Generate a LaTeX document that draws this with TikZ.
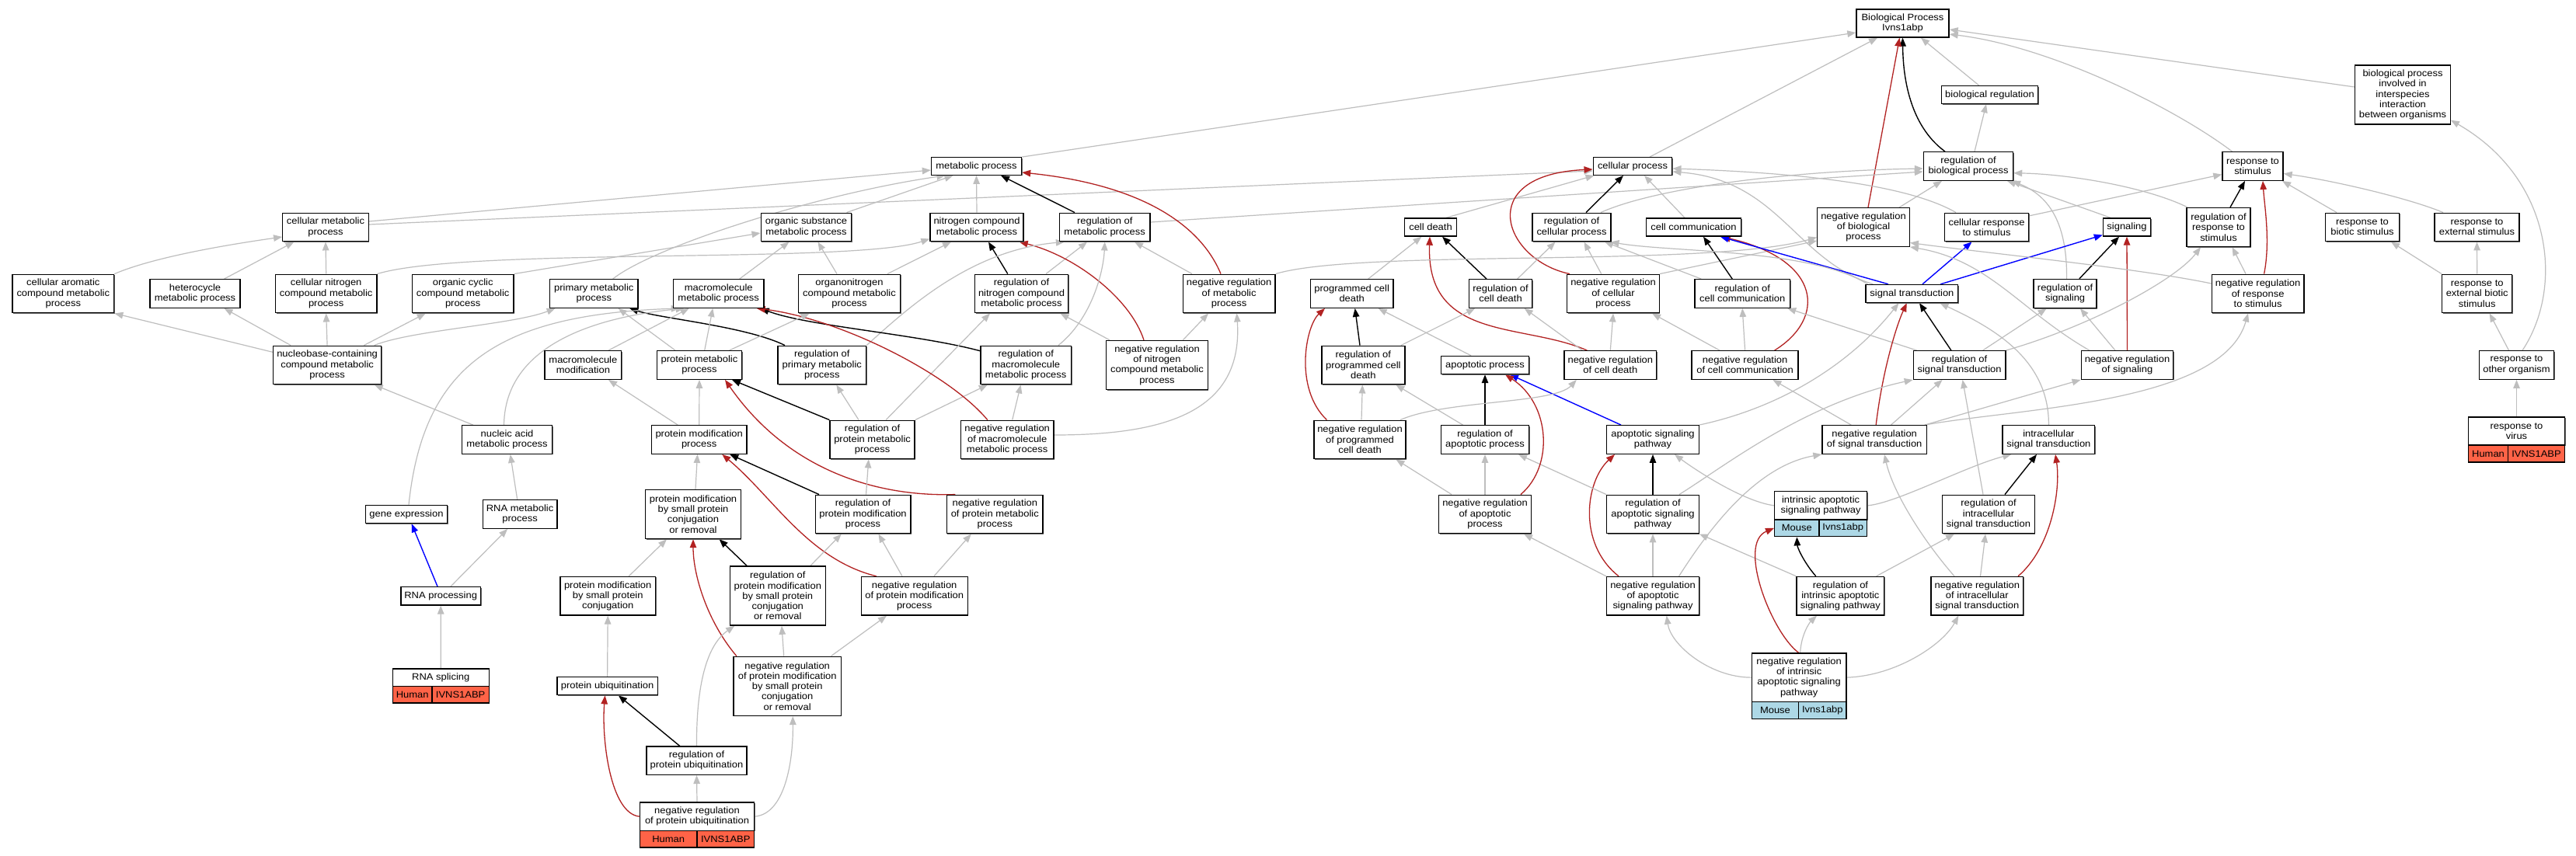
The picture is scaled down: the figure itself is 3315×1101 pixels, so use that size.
\documentclass[tikz,border=0pt]{standalone}
\usepackage{fontspec}
\setmainfont{Liberation Sans}[FakeStretch=1.08]
\usetikzlibrary{arrows.meta,calc,shadows}
\pgfdeclarelayer{edges}
\pgfsetlayers{edges,main}
\definecolor{edgegray}{HTML}{BEBEBE}
\definecolor{edgered}{HTML}{B22222}
\definecolor{edgeblue}{HTML}{0000FF}
\definecolor{hum}{HTML}{FF6347}
\definecolor{mou}{HTML}{ADD8E6}
\tikzset{
  gbox/.style={draw=black, line width=1.4pt, fill=white, inner sep=0pt, align=center,
    font=\fontsize{12}{13.3}\selectfont,
    general shadow={fill=black!60, shadow xshift=1pt, shadow yshift=-1pt}},
  cellbox/.style={draw=black, line width=1.4pt, inner sep=0pt, align=center,
    font=\fontsize{12}{13.3}\selectfont},
  tipk/.style={-{Triangle[length=11pt,width=8.5pt]}},
  gline/.style={draw=edgegray, line width=1.2pt, tipk},
  kline/.style={draw=black, line width=1.4pt, tipk},
  rline/.style={draw=edgered, line width=1.3pt, tipk},
  bline/.style={draw=edgeblue, line width=1.4pt, tipk}
}
\newcommand{\gnode}[6]{\node[gbox,minimum width=#4pt,minimum height=#5pt] (#1) at (#2,#3) {#6};}
\newcommand{\cellnode}[7]{\node[cellbox,fill=#6,minimum width=#4pt,minimum height=#5pt] (#1) at (#2,#3) {#7};}
\begin{document}
\begin{tikzpicture}[x=1pt,y=-1pt]
\useasboundingbox (0,0) rectangle (3315,1101);
\begin{pgfonlayer}{edges}
\fill[white] (0,0) rectangle (3315,1101);
\end{pgfonlayer}
% ---------------- nodes
\gnode{BP}{2448.5}{30}{119}{36}{Biological Process\\Ivns1abp}
\gnode{BR}{2560.5}{122}{124}{23}{biological regulation}
\gnode{BPI}{3092}{122}{122.5}{76}{biological process\\involved in\\interspecies\\interaction\\between organisms}
\gnode{MP}{1256.5}{214}{116}{22.5}{metabolic process}
\gnode{CP}{2101}{214}{101.5}{22.5}{cellular process}
\gnode{RBP}{2533}{214}{115}{36.5}{regulation of\\biological process}
\gnode{RS}{2899}{214}{78}{36.5}{response to\\stimulus}
\gnode{CMP}{419}{292.5}{110.5}{36.5}{cellular metabolic\\process}
\gnode{OSMP}{1037.5}{292.5}{116.5}{36.5}{organic substance\\metabolic process}
\gnode{NCMP}{1257}{292.5}{120}{36.5}{nitrogen compound\\metabolic process}
\gnode{RMP}{1421.7}{292.5}{116.5}{36.5}{regulation of\\metabolic process}
\gnode{CD}{1841}{292.5}{66.5}{23}{cell death}
\gnode{RCP}{2022.5}{292.5}{101}{36.5}{regulation of\\cellular process}
\gnode{CC}{2179.5}{292.5}{122}{23}{cell communication}
\gnode{NRBP}{2398}{292.5}{118.5}{49.5}{negative regulation\\of biological\\process}
\gnode{CRS}{2556.5}{292.5}{108}{36.5}{cellular response\\to stimulus}
\gnode{SIG}{2737}{292.5}{61}{23}{signaling}
\gnode{RRS}{2855}{292.5}{82}{50}{regulation of\\response to\\stimulus}
\gnode{RBS}{3040}{292.5}{95}{36.5}{response to\\biotic stimulus}
\gnode{RES}{3187.5}{292.5}{109}{36.5}{response to\\external stimulus}
\gnode{CACMP}{81.3}{378}{130.7}{49.5}{cellular aromatic\\compound metabolic\\process}
\gnode{HMP}{251}{378}{116}{36.5}{heterocycle\\metabolic process}
\gnode{CNCMP}{419.7}{378}{130.2}{49.5}{cellular nitrogen\\compound metabolic\\process}
\gnode{OCCMP}{595.7}{378}{130.7}{49.5}{organic cyclic\\compound metabolic\\process}
\gnode{PMP}{764.3}{378}{113.3}{36.5}{primary metabolic\\process}
\gnode{MMP}{924.7}{378}{116.4}{36.5}{macromolecule\\metabolic process}
\gnode{ONCMP}{1093}{378}{131.3}{49.5}{organonitrogen\\compound metabolic\\process}
\gnode{RNCMP}{1314.5}{378}{120}{49.5}{regulation of\\nitrogen compound\\metabolic process}
\gnode{NRMP}{1581.6}{378}{118.6}{49.5}{negative regulation\\of metabolic\\process}
\gnode{PCD}{1739.7}{378}{106.4}{36.5}{programmed cell\\death}
\gnode{RCD}{1931}{378}{81.5}{36.5}{regulation of\\cell death}
\gnode{NRCP}{2076}{378}{118.6}{49.5}{negative regulation\\of cellular\\process}
\gnode{RCC}{2242.2}{378}{122.8}{36.5}{regulation of\\cell communication}
\gnode{ST}{2460.4}{378}{118.5}{23}{signal transduction}
\gnode{RSIG}{2657.6}{378}{81}{37}{regulation of\\signaling}
\gnode{NRRS}{2905.6}{378}{118.5}{49.5}{negative regulation\\of response\\to stimulus}
\gnode{REBS}{3187.7}{378}{90}{49.5}{response to\\external biotic\\stimulus}
\gnode{NCCMP}{421.1}{470}{139.2}{49.5}{nucleobase-containing\\compound metabolic\\process}
\gnode{MM}{750.4}{470}{98.5}{36.5}{macromolecule\\modification}
\gnode{PRMP}{900}{470}{109}{36.5}{protein metabolic\\process}
\gnode{RPMP}{1057.8}{470}{113.5}{49.5}{regulation of\\primary metabolic\\process}
\gnode{RMMP}{1320.2}{470}{116.7}{49.5}{regulation of\\macromolecule\\metabolic process}
\gnode{NRNCMP}{1489}{470}{130.5}{63}{negative regulation\\of nitrogen\\compound metabolic\\process}
\gnode{RPCD}{1754.3}{470}{107}{49.5}{regulation of\\programmed cell\\death}
\gnode{AP}{1911}{470}{113}{23}{apoptotic process}
\gnode{NRCD}{2072.3}{470}{118.6}{36.5}{negative regulation\\of cell death}
\gnode{NRCC}{2245.6}{470}{137}{36.5}{negative regulation\\of cell communication}
\gnode{RST}{2521.6}{470}{118.5}{36.5}{regulation of\\signal transduction}
\gnode{NRSIG}{2737.5}{470}{118.5}{36.5}{negative regulation\\of signaling}
\gnode{ROO}{3238.5}{470}{96}{36.5}{response to\\other organism}
\gnode{NAMP}{652.5}{566}{116.4}{36.5}{nucleic acid\\metabolic process}
\gnode{PMOD}{899.7}{566}{122.5}{36.5}{protein modification\\process}
\gnode{RPRMP}{1122.6}{566}{109}{49.5}{regulation of\\protein metabolic\\process}
\gnode{NRMMP}{1296.2}{566}{119.6}{49.5}{negative regulation\\of macromolecule\\metabolic process}
\gnode{NRPCD}{1750}{566}{118.2}{49.5}{negative regulation\\of programmed\\cell death}
\gnode{RAP}{1911}{566}{113}{36.5}{regulation of\\apoptotic process}
\gnode{ASP}{2127}{566}{118.5}{36.5}{apoptotic signaling\\pathway}
\gnode{NRST}{2412.2}{566}{134.3}{36.5}{negative regulation\\of signal transduction}
\gnode{IST}{2636.4}{566}{118.6}{36.5}{intracellular\\signal transduction}
\gnode{GE}{523}{662}{105.3}{23.3}{gene expression}
\gnode{RNAMP}{669.1}{662}{95.8}{36.5}{RNA metabolic\\process}
\gnode{PMSPCR}{892}{662}{122.6}{63}{protein modification\\by small protein\\conjugation\\or removal}
\gnode{RPMOD}{1110.5}{662}{122.6}{49.5}{regulation of\\protein modification\\process}
\gnode{NRPRMP}{1280.3}{662}{123.7}{49.5}{negative regulation\\of protein metabolic\\process}
\gnode{NRAP}{1911}{662}{118.8}{49.5}{negative regulation\\of apoptotic\\process}
\gnode{RASP}{2127}{662}{118.5}{49.5}{regulation of\\apoptotic signaling\\pathway}
\gnode{RIST}{2559}{662}{118.5}{49.5}{regulation of\\intracellular\\signal transduction}
\gnode{RNAP}{567.2}{767.3}{102.7}{23.3}{RNA processing}
\gnode{PMSPC}{782.2}{767.2}{122.8}{49.5}{protein modification\\by small protein\\conjugation}
\gnode{RPMSPCR}{1000.8}{767}{122.8}{76.2}{regulation of\\protein modification\\by small protein\\conjugation\\or removal}
\gnode{NRPMOD}{1176.7}{767.2}{137}{49.5}{negative regulation\\of protein modification\\process}
\gnode{NRASP}{2127}{767.2}{119}{49.5}{negative regulation\\of apoptotic\\signaling pathway}
\gnode{RIASP}{2368.4}{767.2}{112.7}{49.5}{regulation of\\intrinsic apoptotic\\signaling pathway}
\gnode{NRIST}{2544.3}{767.2}{118.6}{49.5}{negative regulation\\of intracellular\\signal transduction}
\gnode{PU}{781.6}{883.2}{129.2}{23}{protein ubiquitination}
\gnode{NRPMSPCR}{1013.2}{883.3}{138.2}{76.2}{negative regulation\\of protein modification\\by small protein\\conjugation\\or removal}
\gnode{RPU}{896.5}{979.2}{129.2}{36.2}{regulation of\\protein ubiquitination}
% composite nodes
\gnode{RNAS}{567.25}{872.25}{123.9}{22.5}{RNA splicing}
\cellnode{RNASh}{530.7}{894.25}{50.8}{21.5}{hum}{Human}
\cellnode{RNASg}{592.65}{894.25}{73.1}{21.5}{hum}{IVNS1ABP}
\gnode{NRPU}{897}{1051.1}{147.2}{36.2}{negative regulation\\of protein ubiquitination}
\cellnode{NRPUh}{860.2}{1080.1}{73.6}{21.8}{hum}{Human}
\cellnode{NRPUg}{933.8}{1080.1}{73.6}{21.8}{hum}{IVNS1ABP}
\gnode{IASP}{2343.1}{650.85}{118.8}{36.3}{intrinsic apoptotic\\signaling pathway}
\cellnode{IASPm}{2312.35}{679.85}{57.3}{21.7}{mou}{Mouse}
\cellnode{IASPg}{2371.75}{679.85}{61.5}{21.7}{mou}{Ivns1abp}
\gnode{NRIASP}{2315.15}{872.15}{121.7}{62.3}{negative regulation\\of intrinsic\\apoptotic signaling\\pathway}
\cellnode{NRIASPm}{2284.45}{914.3}{60.3}{22}{mou}{Mouse}
\cellnode{NRIASPg}{2345.3}{914.3}{61.4}{22}{mou}{Ivns1abp}
\gnode{RV}{3238.5}{555}{124}{36}{response to\\virus}
\cellnode{RVh}{3202}{584}{51}{22}{hum}{Human}
\cellnode{RVg}{3264}{584}{73}{22}{hum}{IVNS1ABP}
% ---------------- edges
\begin{pgfonlayer}{edges}
% top
\draw[gline] (MP.north east) -- ($(BP.west)+(0,12)$);
\draw[gline] ($(CP.north)+(22,0)$) -- ($(BP.south)+(-32.5,0)$);
\draw[kline] ($(RBP.north)+(-30,0)$) .. controls (2462,165) and (2449,110) .. (BP.south);
\draw[rline] ($(NRBP.north)+(6,0)$) -- ($(BP.south)+(-4,0)$);
\draw[gline] ($(BR.north)+(-14,0)$) -- ($(BP.south)+(23.5,0)$);
\draw[gline] ($(RS.north)+(-26.5,0)$) .. controls (2800,140) and (2640,60) .. ($(BP.east)+(0,14)$);
\draw[gline] ($(BPI.west)+(0,-10)$) -- ($(BP.east)+(0,8)$);
\draw[gline] ($(RBP.north)+(8,0)$) -- ($(BR.south)+(-4.5,0)$);
\draw[gline] ($(ROO.north)+(7.5,0)$) .. controls (3300,370) and (3285,230) .. ($(BPI.south east)+(0,-6)$);
\draw[gline] (RV.north) -- (ROO.south);
\draw[gline] (REBS.north) -- (RES.south);
\draw[gline] (REBS.north west) -- ($(RBS.south)+(37,0)$);
\draw[gline] ($(ROO.north)+(-10,0)$) -- ($(REBS.south)+(16,0)$);
\draw[gline] ($(RBS.north)+(-33,0)$) -- ($(RS.south)+(38,0)$);
\draw[gline] ($(RES.north)+(-43.5,0)$) .. controls (3100,255) and (3000,232) .. ($(RS.east)+(0,9.5)$);
\draw[kline] ($(RRS.north)+(15,0)$) -- ($(RS.south)+(-10,0)$);
\draw[rline] ($(NRRS.north)+(8,0)$) .. controls (2922,310) and (2914,265) .. ($(RS.south)+(13,0)$);
\draw[gline] ($(NRRS.north)+(-15.6,0)$) -- ($(RRS.south)+(17.6,0)$);
\draw[gline] ($(CRS.east)+(0,-14.6)$) -- ($(RS.west)+(0,10.6)$);
% regulation of biological process
\draw[gline] ($(RMP.east)+(0,-6.5)$) -- ($(RBP.west)+(0,7)$);
\draw[gline] ($(RCP.north)+(37.5,0)$) .. controls (2130,242) and (2300,220) .. ($(RBP.west)+(0,3)$);
\draw[gline] ($(NRBP.north)+(46,0)$) -- ($(RBP.south)+(-34,0)$);
\draw[gline] ($(RRS.north)+(-40,0)$) .. controls (2760,240) and (2660,224) .. ($(RBP.east)+(0,8.8)$);
\draw[gline] ($(RSIG.north)+(2,0)$) .. controls (2660,300) and (2645,255) .. ($(RBP.south)+(56,0)$);
\draw[gline] ($(SIG.north)+(-21,0)$) -- ($(RBP.south)+(50,0)$);
% cellular process
\draw[gline] ($(CRS.north)+(-39.5,0)$) .. controls (2450,235) and (2300,222) .. ($(CP.east)+(0,3)$);
\draw[gline] ($(ST.north)+(-50,0)$) .. controls (2310,335) and (2290,232) .. ($(CP.east)+(0,7)$);
\draw[gline] ($(CMP.east)+(0,-7.5)$) -- ($(MP.west)+(0,5)$);
\draw[gline] ($(CMP.east)+(0,-3.5)$) -- ($(CP.west)+(0,6)$);
\draw[gline] ($(CD.north)+(20,0)$) -- ($(CP.south west)+(2,0)$);
\draw[kline] ($(RCP.north)+(18.5,0)$) -- ($(CP.south)+(-12,0)$);
\draw[gline] ($(CC.north)+(-11.5,0)$) -- ($(CP.south)+(15,0)$);
\draw[rline] ($(NRCP.north)+(-56,0)$) .. controls (1935,335) and (1895,225) .. ($(CP.west)+(0,4)$);
% metabolic process
\draw[gline] ($(OSMP.north)+(52,0)$) -- ($(MP.south)+(-30,0)$);
\draw[gline] (NCMP.north) -- (MP.south);
\draw[kline] ($(RMP.north)+(-38.7,0)$) -- ($(MP.south)+(31.5,0)$);
\draw[rline] ($(NRMP.north)+(-10.6,0)$) .. controls (1545,290) and (1470,238) .. ($(MP.east)+(0,8)$);
\draw[gline] ($(PMP.north)+(24.4,0)$) .. controls (840,318) and (1050,250) .. ($(MP.south)+(-40,0)$);
% cellular metabolic etc.
\draw[gline] (CACMP.north east) .. controls (200,330) and (300,314) .. ($(CMP.west)+(0,12.5)$);
\draw[gline] ($(HMP.north)+(37.5,0)$) -- ($(CMP.south)+(-40.6,0)$);
\draw[gline] (CNCMP.north) -- (CMP.south);
\draw[gline] (CNCMP.north east) .. controls (600,318) and (1100,340) .. ($(NCMP.west)+(0,15)$);
\draw[gline] (OCCMP.north east) -- ($(OSMP.west)+(0,7.5)$);
\draw[gline] ($(MMP.north)+(27,0)$) -- ($(OSMP.south)+(-22,0)$);
\draw[gline] ($(ONCMP.north)+(-16,0)$) -- ($(OSMP.south)+(15,0)$);
\draw[gline] ($(ONCMP.north)+(49,0)$) -- ($(NCMP.south)+(-33,0)$);
\draw[kline] ($(RNCMP.north)+(-17.7,0)$) -- ($(NCMP.south)+(15,0)$);
\draw[gline] ($(RNCMP.north)+(31.5,0)$) -- ($(RMP.south)+(-22.7,0)$);
\draw[rline] ($(NRNCMP.north)+(-17,0)$) .. controls (1455,385) and (1385,330) .. ($(NCMP.south)+(54.7,0)$);
\draw[gline] ($(NRMP.north)+(-47.6,0)$) -- ($(RMP.south)+(38.3,0)$);
\draw[gline] (RPMP.north east) .. controls (1170,395) and (1250,322) .. ($(RMP.south)+(-51.8,0)$);
\draw[gline] ($(RMMP.north)+(41.8,0)$) .. controls (1405,410) and (1420,350) .. (RMP.south);
\draw[kline] ($(RMMP.west)+(0,-18.3)$) .. controls (1180,430) and (1040,420) .. ($(MMP.south east)+(-5,0)$);
\draw[kline] ($(RPMP.north)+(-47.8,0)$) .. controls (960,420) and (850,410) .. ($(PMP.south)+(46,0)$);
\draw[kline] (RPRMP.north west) -- ($(PRMP.south)+(42,0)$);
\draw[rline] ($(NRPRMP.north)+(-51,0)$) .. controls (1120,640) and (1010,600) .. ($(PRMP.south)+(33,0)$);
\draw[gline] ($(RPRMP.north)+(-17.6,0)$) -- ($(RPMP.south)+(18.5,0)$);
\draw[gline] (RPRMP.north east) -- ($(RMMP.south)+(-49.4,0)$);
\draw[gline] ($(RPRMP.north)+(17.5,0)$) -- ($(RNCMP.south)+(-40.5,0)$);
\draw[gline] ($(NRNCMP.north)+(-61,0)$) -- ($(RNCMP.south)+(50,0)$);
\draw[gline] ($(NRNCMP.north)+(33.3,0)$) -- ($(NRMP.south)+(-26.6,0)$);
\draw[gline] ($(NRMMP.north)+(6.5,0)$) -- ($(RMMP.south)+(-6.6,0)$);
\draw[gline] ($(NRMMP.east)+(0,-6)$) .. controls (1500,560) and (1600,530) .. ($(NRMP.south)+(10,0)$);
\draw[rline] ($(NRMMP.north)+(-25.4,0)$) .. controls (1220,480) and (1080,410) .. ($(MMP.south)+(49,0)$);
\draw[gline] ($(PRMP.north)+(6.7,0)$) -- ($(MMP.south)+(-7.4,0)$);
\draw[gline] ($(PRMP.north)+(38.5,0)$) -- ($(ONCMP.south)+(-51.3,0)$);
\draw[gline] ($(PRMP.north)+(-31,0)$) -- ($(PMP.south)+(31.4,0)$);
\draw[gline] ($(MM.north)+(32.6,0)$) -- ($(MMP.south)+(-38,0)$);
\draw[gline] ($(NCCMP.west)+(0,-16.7)$) -- (CACMP.south east);
\draw[gline] ($(NCCMP.north)+(-47,0)$) -- ($(HMP.south)+(37.5,0)$);
\draw[gline] (NCCMP.north) -- (CNCMP.south);
\draw[gline] ($(NCCMP.north)+(47.3,0)$) -- ($(OCCMP.south)+(-48,0)$);
\draw[gline] ($(NCCMP.north)+(60.6,0)$) .. controls (530,425) and (660,418) .. ($(PMP.south)+(-49.7,0)$);
\draw[gline] ($(NAMP.north)+(-43.8,0)$) -- ($(NCCMP.south)+(60.6,0)$);
\draw[gline] ($(NAMP.north)+(-4,0)$) .. controls (650,430) and (800,405) .. ($(MMP.south)+(-44,0)$);
\draw[gline] ($(GE.north)+(3,0)$) .. controls (545,470) and (640,405) .. ($(MMP.south)+(-50,0)$);
% protein branch
\draw[gline] ($(PMOD.north)+(-27.5,0)$) -- ($(MM.south)+(32.6,0)$);
\draw[gline] (PMOD.north) -- (PRMP.south);
\draw[kline] ($(RPMOD.north)+(-56.5,0)$) -- ($(PMOD.south)+(39.5,0)$);
\draw[gline] ($(RPMOD.north)+(4,0)$) -- ($(RPRMP.south)+(-4.8,0)$);
\draw[rline] ($(NRPMOD.north)+(-49,0)$) .. controls (1040,720) and (995,640) .. ($(PMOD.south)+(29.6,0)$);
\draw[gline] ($(NRPMOD.north)+(-15.7,0)$) -- ($(RPMOD.south)+(20,0)$);
\draw[gline] ($(NRPMOD.north)+(25.2,0)$) -- ($(NRPRMP.south)+(-30.5,0)$);
\draw[gline] ($(PMSPCR.north)+(3,0)$) -- ($(PMOD.south)+(-2.2,0)$);
\draw[kline] ($(RPMSPCR.north)+(-39.8,0)$) -- ($(PMSPCR.south)+(33.6,0)$);
\draw[gline] ($(RPMSPCR.north)+(42.2,0)$) -- ($(RPMOD.south)+(-27.7,0)$);
\draw[rline] ($(NRPMSPCR.north)+(-65.4,0)$) .. controls (910,800) and (892,740) .. (PMSPCR.south);
\draw[gline] ($(NRPMSPCR.north)+(-4.5,0)$) -- ($(RPMSPCR.south)+(5.2,0)$);
\draw[gline] ($(NRPMSPCR.north)+(56.4,0)$) -- ($(NRPMOD.south)+(-35.7,0)$);
\draw[gline] ($(PMSPC.north)+(27,0)$) -- ($(PMSPCR.south)+(-34,0)$);
\draw[gline] (PU.north) -- (PMSPC.south);
\draw[kline] ($(RPU.north)+(-21.7,0)$) -- ($(PU.south)+(14.3,0)$);
\draw[gline] (RPU.north) .. controls (896,880) and (910,830) .. ($(RPMSPCR.south)+(-55.6,0)$);
\draw[rline] (NRPU.west) .. controls (785,1047) and (774,950) .. ($(PU.south)+(-3,0)$);
\draw[gline] (NRPU.north) -- (RPU.south);
\draw[gline] (NRPU.east) .. controls (1010,1048) and (1021,980) .. ($(NRPMSPCR.south)+(7,0)$);
\draw[gline] (RNAS.north) -- (RNAP.south);
\draw[bline] ($(RNAP.north)+(-4.2,0)$) -- ($(GE.south)+(6.7,0)$);
\draw[gline] ($(RNAP.north)+(12.8,0)$) -- ($(RNAMP.south)+(-16,0)$);
\draw[gline] ($(RNAMP.north)+(-3.4,0)$) -- ($(NAMP.south)+(4.2,0)$);
% cell death / communication
\draw[gline] ($(PCD.north)+(21,0)$) -- ($(CD.south)+(-11.6,0)$);
\draw[kline] ($(RCD.north)+(-18,0)$) -- ($(CD.south)+(15,0)$);
\draw[rline] ($(NRCD.north)+(-30,0)$) .. controls (1960,415) and (1835,440) .. ($(CD.south)+(-1,0)$);
\draw[gline] ($(RCD.north)+(21.7,0)$) -- ($(RCP.south)+(-21,0)$);
\draw[gline] ($(NRCP.north)+(-15.3,0)$) -- ($(RCP.south)+(16,0)$);
\draw[gline] (NRCP.north east) -- ($(NRBP.west)+(0,17.5)$);
\draw[gline] (NRMP.north east) .. controls (1750,320) and (2200,345) .. ($(NRBP.west)+(0,13)$);
\draw[kline] ($(RCC.north)+(-13,0)$) -- ($(CC.south)+(12.5,0)$);
\draw[gline] ($(RCC.north)+(-53,0)$) -- ($(RCP.south)+(42.5,0)$);
\draw[rline] ($(NRCC.north)+(38,0)$) .. controls (2350,410) and (2345,335) .. ($(CC.south)+(36.3,0)$);
\draw[gline] (NRCC.north) -- (RCC.south);
\draw[gline] ($(NRCC.north)+(-32.6,0)$) -- ($(NRCP.south)+(50,0)$);
\draw[bline] ($(ST.north)+(-30.4,0)$) -- ($(CC.south)+(34.3,0)$);
\draw[gline] ($(ST.north west)+(3,0)$) .. controls (2330,320) and (2150,325) .. ($(RCP.south)+(50,0)$);
\draw[bline] ($(ST.north)+(13.6,0)$) -- ($(CRS.south)+(-19,0)$);
\draw[bline] ($(ST.north)+(36.9,0)$) -- ($(SIG.west)+(0,10)$);
\draw[kline] ($(RSIG.north)+(18.3,0)$) -- ($(SIG.south)+(-10,0)$);
\draw[rline] (NRSIG.north) -- (SIG.south);
\draw[gline] ($(NRSIG.north)+(-15.5,0)$) -- ($(RSIG.south)+(19.4,0)$);
\draw[gline] ($(NRSIG.north)+(-48.7,0)$) .. controls (2600,400) and (2560,335) .. (NRBP.south east);
\draw[gline] ($(NRRS.west)+(0,-13)$) .. controls (2750,345) and (2550,325) .. ($(NRBP.east)+(0,20)$);
\draw[kline] ($(RST.north)+(-10.7,0)$) -- ($(ST.south)+(9.6,0)$);
\draw[gline] ($(RST.north)+(30,0)$) -- ($(RSIG.south)+(-24,0)$);
\draw[gline] ($(RST.north west)+(5,0)$) -- ($(RCC.south)+(58,0)$);
\draw[gline] (RST.north east) .. controls (2690,420) and (2800,360) .. ($(RRS.south)+(-23,0)$);
\draw[rline] ($(NRST.north)+(2,0)$) .. controls (2422,480) and (2440,420) .. ($(ST.south)+(-6.6,0)$);
\draw[gline] ($(NRST.north)+(21.3,0)$) -- ($(RST.south)+(-22,0)$);
\draw[gline] ($(NRST.north east)+(-3,0)$) -- (NRSIG.south west);
\draw[gline] ($(NRST.north east)+(-3,0)$) .. controls (2600,525) and (2860,520) .. ($(NRRS.south)+(-12.6,0)$);
\draw[gline] ($(NRST.north)+(-30,0)$) -- ($(NRCC.south)+(35.8,0)$);
% apoptosis
\draw[gline] (ASP.north east) .. controls (2290,525) and (2380,470) .. ($(ST.south)+(-17,0)$);
\draw[bline] ($(ASP.north)+(-41,0)$) -- ($(AP.south)+(32,0)$);
\draw[gline] (IST.north) .. controls (2637,460) and (2560,420) .. ($(ST.south)+(36,0)$);
\draw[kline] ($(RIST.north)+(21,0)$) -- ($(IST.south)+(-15.4,0)$);
\draw[gline] ($(RIST.north)+(-7,0)$) -- ($(RST.south)+(4,0)$);
\draw[rline] ($(NRIST.north)+(52.7,0)$) .. controls (2640,705) and (2652,630) .. ($(IST.south)+(8.6,0)$);
\draw[gline] ($(NRIST.north)+(4.2,0)$) -- ($(RIST.south)+(-4,0)$);
\draw[gline] ($(NRIST.north)+(-29.3,0)$) .. controls (2470,690) and (2435,630) .. ($(NRST.south)+(12.8,0)$);
\draw[gline] (IASP.west) .. controls (2240,645) and (2175,600) .. ($(ASP.south)+(28,0)$);
\draw[gline] (IASP.east) .. controls (2440,648) and (2530,600) .. ($(IST.south west)+(12,0)$);
\draw[kline] ($(RIASP.north)+(-31.6,0)$) .. controls (2322,725) and (2313,705) .. (IASPm.south);
\draw[gline] (RIASP.north west) -- (RASP.south east);
\draw[gline] ($(RIASP.north)+(46.2,0)$) -- ($(RIST.south)+(-44,0)$);
\draw[rline] ($(NRIASP.north)+(-0.5,0)$) .. controls (2280,815) and (2235,700) .. (IASPm.west);
\draw[gline] ($(NRIASP.north)+(1.5,0)$) .. controls (2318,815) and (2330,800) .. ($(RIASP.south)+(-30.4,0)$);
\draw[gline] (NRIASP.west) .. controls (2200,872) and (2150,830) .. ($(NRASP.south)+(17.7,0)$);
\draw[gline] (NRIASP.east) .. controls (2440,870) and (2500,830) .. ($(NRIST.south)+(-24,0)$);
\draw[rline] ($(NRASP.north)+(-44,0)$) .. controls (2030,700) and (2040,620) .. ($(ASP.south)+(-49,0)$);
\draw[gline] (NRASP.north) -- (RASP.south);
\draw[gline] ($(NRASP.north)+(33.6,0)$) .. controls (2200,680) and (2260,600) .. (NRST.south west);
\draw[gline] (NRASP.north west) -- ($(NRAP.south)+(50,0)$);
\draw[kline] (RASP.north) -- (ASP.south);
\draw[gline] (RASP.north west) -- ($(RAP.south)+(43,0)$);
\draw[gline] ($(RASP.north)+(34,0)$) .. controls (2220,600) and (2320,520) .. (RST.south west);
\draw[kline] (RAP.north) -- (AP.south);
\draw[gline] ($(RAP.north)+(-28.5,0)$) -- ($(RPCD.south)+(42,0)$);
\draw[rline] ($(NRAP.north)+(46,0)$) .. controls (2000,600) and (1995,520) .. ($(AP.south)+(26,0)$);
\draw[gline] (NRAP.north) -- (RAP.south);
\draw[gline] ($(NRAP.north)+(-43,0)$) -- ($(NRPCD.south)+(46.4,0)$);
\draw[gline] ($(AP.north)+(-18,0)$) -- ($(PCD.south)+(34,0)$);
\draw[gline] ($(NRPCD.north)+(2,0)$) -- ($(RPCD.south)+(-1,0)$);
\draw[rline] ($(NRPCD.north)+(-42.6,0)$) .. controls (1665,500) and (1680,420) .. ($(PCD.south)+(-34.7,0)$);
\draw[gline] ($(NRPCD.north)+(52,0)$) .. controls (1860,515) and (2000,520) .. ($(NRCD.south)+(-43.5,0)$);
\draw[kline] ($(RPCD.north)+(-4.3,0)$) -- ($(PCD.south)+(4,0)$);
\draw[gline] ($(RPCD.north)+(48.7,0)$) -- ($(RCD.south)+(-32.8,0)$);
\draw[gline] ($(NRCD.north)+(-36,0)$) -- ($(RCD.south)+(30.7,0)$);
\draw[gline] (NRCD.north) -- (NRCP.south);
\end{pgfonlayer}
\end{tikzpicture}
\end{document}
